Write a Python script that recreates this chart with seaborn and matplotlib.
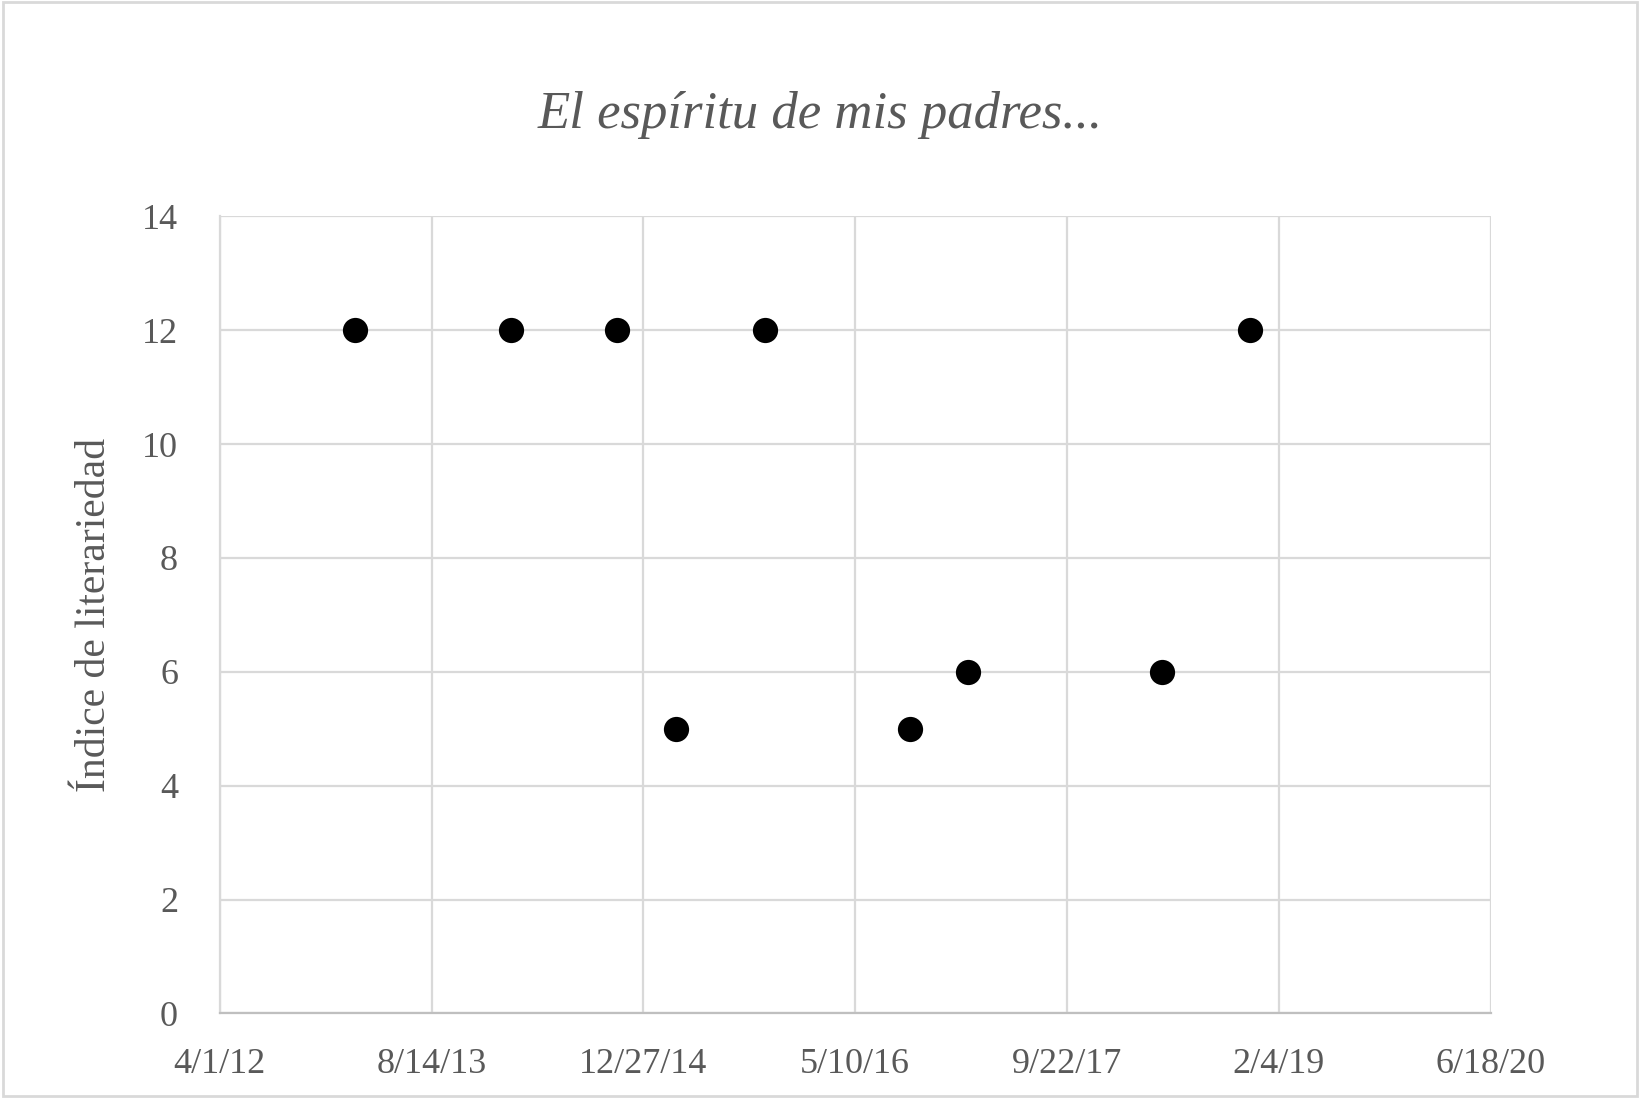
import pandas as pd
import matplotlib
matplotlib.use("Agg")
import matplotlib.pyplot as plt
import seaborn as sns

# ==============================
# DATA
# ==============================
fechas = ["2013-02-15", "2014-02-17", "2014-10-25", "2015-03-15", "2015-10-10",
          "2016-09-17", "2017-01-31", "2018-05-04", "2018-11-28"]
indice = [12, 12, 12, 5, 12, 5, 6, 6, 12]

tick_fechas = ["2012-04-01", "2013-08-14", "2014-12-27", "2016-05-10",
               "2017-09-22", "2019-02-04", "2020-06-18"]
y_ticks = [0, 2, 4, 6, 8, 10, 12, 14]

titulo = "El espíritu de mis padres..."
y_label = "Índice de literariedad"

df = pd.DataFrame({"fecha": pd.to_datetime(fechas), "indice": indice})
ticks = pd.to_datetime(tick_fechas)

# ==============================
# STYLE
# ==============================
sns.set_style("white")
plt.rcParams["font.family"] = ["Liberation Serif", "DejaVu Serif"]
text_color = "#595959"
grid_color = "#d9d9d9"

fig = plt.figure(figsize=(16.4, 10.98), dpi=100)
ax = fig.add_axes([0.134, 0.077, 0.775, 0.726])

sns.scatterplot(data=df, x="fecha", y="indice", ax=ax, s=330, color="black",
                edgecolor="black", linewidth=0, zorder=3)

ax.set_xlim(ticks[0], ticks[-1])
ax.set_ylim(0, 14)
ax.set_xticks(ticks)
ax.set_xticklabels([f"{d.month}/{d.day}/{d.strftime('%y')}" for d in ticks])
ax.set_yticks(y_ticks)

ax.grid(True, color=grid_color, linewidth=1.6, zorder=0)
ax.set_axisbelow(True)
for side in ["top", "right"]:
    ax.spines[side].set_visible(False)
ax.spines["left"].set_color(grid_color)
ax.spines["left"].set_linewidth(1.6)
ax.spines["bottom"].set_color("#bfbfbf")
ax.spines["bottom"].set_linewidth(1.6)

ax.tick_params(axis="both", length=0, labelsize=26, labelcolor=text_color)
ax.tick_params(axis="x", pad=25)
ax.tick_params(axis="y", pad=30)

ax.set_xlabel("")
ax.set_ylabel(y_label, fontsize=30, color=text_color, labelpad=20)
fig.text(0.5, 0.895, titulo, ha="center", va="center", fontsize=38,
         style="italic", color=text_color)

# figure border
fig.patches.append(plt.Rectangle((0.002, 0.002), 0.996, 0.996, transform=fig.transFigure,
                                 fill=False, edgecolor=grid_color, linewidth=2))

fig.savefig("out.png", dpi=100)
